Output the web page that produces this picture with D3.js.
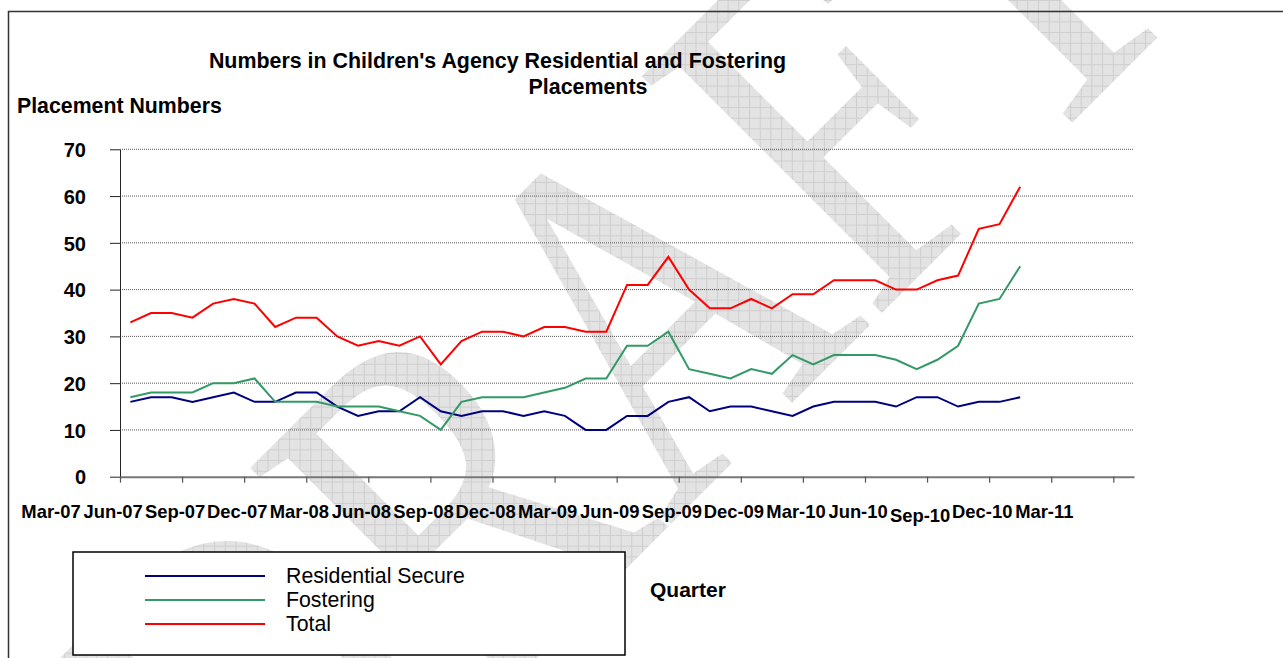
<!DOCTYPE html>
<html>
<head>
<meta charset="utf-8">
<script src="https://cdn.jsdelivr.net/npm/d3@7"></script>
<style>
  html, body { margin: 0; padding: 0; background: #fff; }
  svg { display: block; font-family: "Liberation Sans", Arial, sans-serif; }
</style>
</head>
<body>
<svg id="chart" width="1283" height="658"></svg>
<script>
// Monthly categories on the x axis (Mar-07 .. Mar-11)
const months = [
  "Mar-07","Apr-07","May-07","Jun-07","Jul-07","Aug-07","Sep-07","Oct-07","Nov-07","Dec-07",
  "Jan-08","Feb-08","Mar-08","Apr-08","May-08","Jun-08","Jul-08","Aug-08","Sep-08","Oct-08","Nov-08","Dec-08",
  "Jan-09","Feb-09","Mar-09","Apr-09","May-09","Jun-09","Jul-09","Aug-09","Sep-09","Oct-09","Nov-09","Dec-09",
  "Jan-10","Feb-10","Mar-10","Apr-10","May-10","Jun-10","Jul-10","Aug-10","Sep-10","Oct-10","Nov-10","Dec-10",
  "Jan-11","Feb-11","Mar-11"
];

// Quarter labels shown under the axis
const quarterLabels = [
  "Mar-07","Jun-07","Sep-07","Dec-07","Mar-08","Jun-08","Sep-08","Dec-08","Mar-09",
  "Jun-09","Sep-09","Dec-09","Mar-10","Jun-10","Sep-10","Dec-10","Mar-11"
];

const yTicks = [0, 10, 20, 30, 40, 50, 60, 70];

// Placement numbers per month
const residentialSecure = [16,17,17,16,17,18,16,16,18,18,15,13,14,14,17,14,
  13,14,14,13,14,13,10,10,13,13,16,17,14,15,15,
  14,13,15,16,16,16,15,17,17,15,16,16,17];
const fostering = [17,18,18,18,20,20,21,16,16,16,15,15,15,14,13,10,
  16,17,17,17,18,19,21,21,28,28,31,23,22,21,23,
  22,26,24,26,26,26,25,23,25,28,37,38,45];
const total = [33,35,35,34,37,38,37,32,34,34,30,28,29,28,30,24,
  29,31,31,30,32,32,31,31,41,41,47,40,36,36,38,
  36,39,39,42,42,42,40,40,42,43,53,54,62];

const seriesList = [
  { name: "Residential Secure", values: residentialSecure, color: "#000080" },
  { name: "Fostering",          values: fostering,         color: "#339966" },
  { name: "Total",              values: total,             color: "#ff0000" }
];

const svg = d3.select("#chart");
const FONT = '"Liberation Sans", Arial, sans-serif';

// ---- DRAFT watermark (hatched, behind everything) ----
const defs = svg.append("defs");
const pat = defs.append("pattern")
  .attr("id", "hatch").attr("patternUnits", "userSpaceOnUse")
  .attr("width", 10.7).attr("height", 10.7);
pat.append("rect").attr("width", 10.7).attr("height", 10.7).attr("fill", "#e3e3e3");
pat.append("path").attr("d", "M0,0.5H10.7M0.5,0V10.7")
  .attr("stroke", "#cecece").attr("stroke-width", 1);

const clip = defs.append("clipPath").attr("id", "wm");
clip.append("text")
  .attr("transform", "translate(277,918) rotate(-45) scale(0.774,1)")
  .attr("font-family", '"Liberation Serif", "Times New Roman", serif')
  .attr("font-size", 515)
  .text("DRAFT");

svg.append("rect").attr("width", 1283).attr("height", 658)
  .attr("fill", "url(#hatch)").attr("clip-path", "url(#wm)");

// ---- Outer frame ----
svg.append("path")
  .attr("d", "M8.5,658V11.5H1283")
  .attr("fill", "none").attr("stroke", "#333").attr("stroke-width", 1.5);

// ---- Scales ----
const plotLeft = 120, plotRight = 1134, plotTop = 149.3, plotBottom = 476.7;
const x = d3.scaleLinear().domain([0, months.length]).range([plotLeft, plotRight]);
const y = d3.scaleLinear().domain([0, 70]).range([plotBottom, plotTop]);

// ---- Gridlines ----
svg.append("g").selectAll("line")
  .data(yTicks.filter(d => d > 0))
  .join("line")
  .attr("x1", plotLeft).attr("x2", plotRight)
  .attr("y1", d => y(d)).attr("y2", d => y(d))
  .attr("stroke", "#555").attr("stroke-width", 1)
  .attr("stroke-dasharray", "1,1");

// ---- Y axis ----
const yAxis = svg.append("g")
  .attr("transform", `translate(${plotLeft},0)`)
  .call(d3.axisLeft(y).tickValues(yTicks).tickSize(10).tickSizeOuter(0));
yAxis.select(".domain").attr("stroke", "#222").attr("stroke-width", 1);
yAxis.selectAll(".tick line").attr("stroke", "#222");
yAxis.selectAll(".tick text")
  .attr("x", -34).attr("dy", "0.36em")
  .attr("font-family", FONT).attr("font-size", 20).attr("font-weight", "bold")
  .attr("fill", "#000");

// ---- X axis ----
const quarterIdx = quarterLabels.map(q => months.indexOf(q));
const xAxis = svg.append("g")
  .attr("transform", `translate(0,${plotBottom})`)
  .call(d3.axisBottom(x).tickValues(quarterIdx).tickSize(6).tickSizeOuter(0)
    .tickFormat(i => months[i]));
xAxis.select(".domain").attr("stroke", "#777").attr("stroke-width", 2);
xAxis.selectAll(".tick line").attr("stroke", "#555").attr("stroke-width", 1.2);
xAxis.selectAll(".tick text")
  .attr("x", -69.5)
  .attr("y", d => months[d] === "Sep-10" ? 45 : 41)
  .attr("dy", 0)
  .attr("font-family", FONT).attr("font-size", 18.4).attr("font-weight", "bold")
  .attr("fill", "#000");

// ---- Lines ----
const line = d3.line()
  .x((d, i) => x(i + 0.5))
  .y(d => y(d));

svg.append("g").selectAll("path")
  .data(seriesList)
  .join("path")
  .attr("d", s => line(s.values))
  .attr("fill", "none")
  .attr("stroke", s => s.color)
  .attr("stroke-width", 2)
  .attr("stroke-linejoin", "miter");

// ---- Titles ----
svg.append("text")
  .attr("x", 497.5).attr("y", 68).attr("text-anchor", "middle")
  .attr("font-family", FONT).attr("font-size", 21.4).attr("font-weight", "bold")
  .text("Numbers in Children's Agency Residential and Fostering");
svg.append("text")
  .attr("x", 588).attr("y", 94).attr("text-anchor", "middle")
  .attr("font-family", FONT).attr("font-size", 21.4).attr("font-weight", "bold")
  .text("Placements");
svg.append("text")
  .attr("x", 17).attr("y", 113)
  .attr("font-family", FONT).attr("font-size", 21.3).attr("font-weight", "bold")
  .text("Placement Numbers");
svg.append("text")
  .attr("x", 650).attr("y", 597)
  .attr("font-family", FONT).attr("font-size", 21).attr("font-weight", "bold")
  .text("Quarter");

// ---- Legend ----
const legend = svg.append("g");
legend.append("rect")
  .attr("x", 73).attr("y", 552).attr("width", 552).attr("height", 103)
  .attr("fill", "#fff").attr("stroke", "#000").attr("stroke-width", 1.5);
const items = legend.selectAll("g.item")
  .data(seriesList).join("g").attr("class", "item")
  .attr("transform", (d, i) => `translate(0,${576 + i * 24})`);
items.append("line")
  .attr("x1", 145).attr("x2", 265)
  .attr("stroke", d => d.color).attr("stroke-width", 2);
items.append("text")
  .attr("x", 286).attr("y", 7)
  .attr("font-family", FONT).attr("font-size", 21.3)
  .text(d => d.name);
</script>
</body>
</html>
